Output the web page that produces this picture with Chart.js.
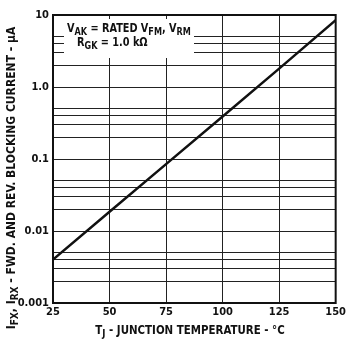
<!DOCTYPE html>
<html>
<head>
<meta charset="utf-8">
<script src="https://cdn.jsdelivr.net/npm/chart.js@4"></script>
<style>
  body { margin: 0; background: #fff; }
</style>
</head>
<body>
<canvas id="grafico" width="349" height="348"></canvas>
<script>
// datos
const temperaturas = [25, 50, 75, 100, 125, 150];
const corrientes = [0.004, 0.0185, 0.085, 0.39, 1.8, 8.5];
const decadas = [0.001, 0.01, 0.1, 1, 10];
const etiquetasY = ["0.001", "0.01", "0.1", "1.0", "10"];
const multiplicadores = [2, 3, 4, 5];
const ticksX = [25, 50, 75, 100, 125, 150];

const fuente = '"Liberation Sans Narrow", "DejaVu Sans Condensed", "Liberation Sans", sans-serif';

// ticks del eje y: decadas + lineas menores 2,3,4,5
const ticksY = [];
decadas.forEach((d, i) => {
  ticksY.push(d);
  if (i < decadas.length - 1) multiplicadores.forEach((m) => ticksY.push(+(d * m).toPrecision(3)));
});

// texto con subindices, comprimido en horizontal por k
function textoSub(ctx, partes, x, y, size, k) {
  ctx.save();
  ctx.translate(x, y);
  ctx.scale(k, 1);
  let cx = 0;
  partes.forEach(([t, sub]) => {
    ctx.font = "bold " + (sub ? size - 2 : size) + "px " + fuente;
    ctx.fillText(t, cx, sub ? 3 : 0);
    cx += ctx.measureText(t).width;
  });
  ctx.restore();
}
function anchoSub(ctx, partes, size, k) {
  let w = 0;
  partes.forEach(([t, sub]) => {
    ctx.font = "bold " + (sub ? size - 2 : size) + "px " + fuente;
    w += ctx.measureText(t).width;
  });
  return w * k;
}

const extras = {
  id: "extras",
  beforeDatasetsDraw(chart) {
    const ctx = chart.ctx;
    ctx.save();
    ctx.fillStyle = "#fff";
    ctx.fillRect(64, 19, 130, 39);
    ctx.fillStyle = "#111";
    ctx.textAlign = "left";
    textoSub(ctx, [["V", 0], ["AK", 1], [" = RATED V", 0], ["FM", 1], [", V", 0], ["RM", 1]], 67, 32, 12, 0.9);
    textoSub(ctx, [["R", 0], ["GK", 1], [" = 1.0 k\u03A9", 0]], 77, 46, 12, 0.9);
    ctx.restore();
  },
  afterDraw(chart) {
    const ctx = chart.ctx;
    const a = chart.chartArea;
    ctx.save();
    ctx.strokeStyle = "#111";
    ctx.lineWidth = 2;
    ctx.strokeRect(a.left, a.top, a.right - a.left, a.bottom - a.top);
    ctx.fillStyle = "#111";
    ctx.textAlign = "left";
    // titulo eje x
    const tx = [["T", 0], ["J", 1], [" - JUNCTION TEMPERATURE - \u00B0C", 0]];
    const wx = anchoSub(ctx, tx, 12, 0.95);
    textoSub(ctx, tx, 190 - wx / 2, 334, 12, 0.95);
    // titulo eje y (rotado)
    const ty = [["I", 0], ["FX", 1], [", I", 0], ["RX", 1], [" - FWD. AND REV. BLOCKING CURRENT - \u00B5A", 0]];
    const wy = anchoSub(ctx, ty, 12, 1);
    ctx.translate(15, 178);
    ctx.rotate(-Math.PI / 2);
    textoSub(ctx, ty, -wy / 2, 0, 12, 1);
    ctx.restore();
  },
};

const ctx = document.getElementById("grafico").getContext("2d");
new Chart(ctx, {
  type: "line",
  data: {
    datasets: [
      {
        data: temperaturas.map((t, i) => ({ x: t, y: corrientes[i] })),
        borderColor: "#111",
        borderWidth: 2.5,
        pointRadius: 0,
        tension: 0,
      },
    ],
  },
  options: {
    responsive: false,
    animation: false,
    layout: { padding: { top: 15, right: 10, left: 0, bottom: 0 } },
    plugins: { legend: { display: false }, tooltip: { enabled: false } },
    scales: {
      x: {
        type: "linear",
        min: 25,
        max: 150,
        afterBuildTicks: (s) => { s.ticks = ticksX.map((v) => ({ value: v })); },
        afterFit: (s) => { s.height = 45; },
        grid: { color: "#222", lineWidth: 1, drawTicks: false },
        border: { display: false },
        ticks: { color: "#111", padding: 3, font: { family: fuente, size: 11, weight: "bold" } },
      },
      y: {
        type: "logarithmic",
        min: 0.001,
        max: 10,
        afterBuildTicks: (s) => { s.ticks = ticksY.map((v) => ({ value: v })); },
        afterFit: (s) => { s.width = 53; },
        grid: { color: "#222", lineWidth: 1, drawTicks: false },
        border: { display: false },
        ticks: {
          autoSkip: false,
          color: "#111",
          padding: 4,
          font: { family: fuente, size: 11, weight: "bold" },
          callback: (v) => {
            const i = decadas.findIndex((d) => Math.abs(d - v) / d < 1e-6);
            return i >= 0 ? etiquetasY[i] : "";
          },
        },
      },
    },
  },
  plugins: [extras],
});
</script>
</body>
</html>
